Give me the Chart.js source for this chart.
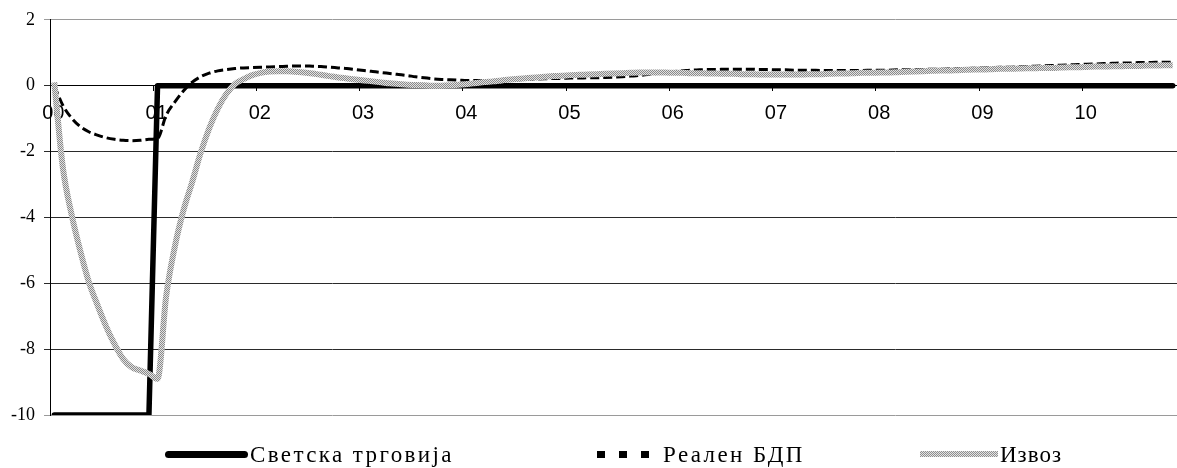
<!DOCTYPE html>
<html>
<head>
<meta charset="utf-8">
<script src="https://cdn.jsdelivr.net/npm/chart.js@4.4.1/dist/chart.umd.min.js"></script>
<style>
  html, body { margin: 0; padding: 0; background: #fff; }
  #wrap { position: relative; width: 1177px; height: 468px; overflow: hidden; }
  #chart { position: absolute; left: 0; top: 0; }
  .lg-text { position: absolute; font-family: 'Liberation Serif', 'Times New Roman', serif; font-size: 23px; line-height: 26px; letter-spacing: 2.4px; color: #000; white-space: nowrap; }
  .lg-solid { position: absolute; background: #000; border-radius: 4px; }
  .lg-dash { position: absolute; background: #000; }
  .lg-pat { position: absolute; background-image: repeating-conic-gradient(#8f8f8f 0% 25%, #e4e4e4 0% 50%); background-size: 2px 2px; }
</style>
</head>
<body>
<div id="wrap">
  <canvas id="chart" width="1177" height="468"></canvas>
</div>
<script>
// ---- data ----
const years = ['00','01','02','03','04','05','06','07','08','09','10'];
const seriesNames = ['Светска трговија', 'Реален БДП', 'Извоз'];
const yTicks = [2, 0, -2, -4, -6, -8, -10];

const worldTrade = [
  -10,-10,-10,-10,-10,-10,-10,-10,-10,-10,-10,-10,
  0,0,0,0,0,0,0,0,0,0,0,0,
  0,0,0,0,0,0,0,0,0,0,0,0,
  0,0,0,0,0,0,0,0,0,0,0,0,
  0,0,0,0,0,0,0,0,0,0,0,0,
  0,0,0,0,0,0,0,0,0,0,0,0,
  0,0,0,0,0,0,0,0,0,0,0,0,
  0,0,0,0,0,0,0,0,0,0,0,0,
  0,0,0,0,0,0,0,0,0,0,0,0,
  0,0,0,0,0,0,0,0,0,0,0,0,
  0,0,0,0,0,0,0,0,0,0,0
];

const realGDP = [
  0,-0.6,-0.98,-1.24,-1.4,-1.5,-1.58,-1.63,-1.66,-1.67,-1.66,-1.63,
  -1.6,-0.9,-0.5,-0.16,0.1,0.27,0.38,0.45,0.49,0.52,0.54,0.55,
  0.56,0.57,0.58,0.59,0.6,0.6,0.59,0.58,0.56,0.54,0.52,0.49,
  0.46,0.43,0.4,0.37,0.34,0.31,0.27,0.24,0.21,0.19,0.18,0.17,
  0.16,0.16,0.16,0.16,0.17,0.17,0.18,0.19,0.2,0.21,0.22,0.22,
  0.23,0.23,0.24,0.24,0.25,0.26,0.27,0.29,0.31,0.34,0.37,0.4,
  0.43,0.45,0.47,0.48,0.49,0.49,0.5,0.5,0.5,0.5,0.49,0.49,
  0.48,0.48,0.47,0.47,0.47,0.46,0.46,0.46,0.46,0.46,0.46,0.47,
  0.47,0.47,0.48,0.48,0.49,0.49,0.5,0.5,0.51,0.52,0.52,0.53,
  0.54,0.55,0.56,0.56,0.57,0.58,0.59,0.6,0.61,0.62,0.63,0.64,
  0.65,0.66,0.67,0.68,0.69,0.69,0.7,0.7,0.71,0.71,0.71
];

const exports_ = [
  0.1,-2.5,-3.9,-5.0,-5.95,-6.65,-7.3,-7.85,-8.3,-8.55,-8.65,-8.75,
  -8.9,-6.4,-4.9,-3.8,-2.95,-2.05,-1.3,-0.7,-0.25,0.05,0.2,0.32,
  0.39,0.43,0.44,0.44,0.42,0.4,0.37,0.33,0.29,0.25,0.22,0.19,
  0.16,0.13,0.1,0.07,0.05,0.03,0.02,0.01,0.0,0.0,0.01,0.03,
  0.05,0.08,0.11,0.13,0.16,0.19,0.21,0.23,0.25,0.27,0.29,0.3,
  0.32,0.33,0.34,0.35,0.36,0.37,0.38,0.39,0.4,0.4,0.4,0.4,
  0.39,0.39,0.38,0.38,0.37,0.37,0.36,0.36,0.35,0.35,0.34,0.34,
  0.34,0.34,0.34,0.34,0.35,0.35,0.36,0.37,0.37,0.38,0.39,0.39,
  0.4,0.4,0.41,0.42,0.43,0.44,0.45,0.46,0.46,0.47,0.48,0.49,
  0.49,0.5,0.51,0.51,0.52,0.53,0.53,0.54,0.54,0.55,0.56,0.56,
  0.57,0.58,0.58,0.59,0.59,0.6,0.6,0.61,0.61,0.62,0.62
];

// monthly category labels built from the year labels
const allMonths = [];
years.forEach(y => { for (let m = 0; m < 12; m++) allMonths.push(m === 0 ? y : ''); });
const labels = allMonths.slice(0, worldTrade.length);

// speckled gray pattern for the export line
const pc = document.createElement('canvas');
pc.width = 2; pc.height = 2;
const pctx = pc.getContext('2d');
pctx.fillStyle = '#e2e2e2'; pctx.fillRect(0, 0, 2, 2);
pctx.fillStyle = '#8a8a8a'; pctx.fillRect(0, 0, 1, 1); pctx.fillRect(1, 1, 1, 1);
const grayPattern = pctx.createPattern(pc, 'repeat');

const ctx = document.getElementById('chart').getContext('2d');
new Chart(ctx, {
  type: 'line',
  data: {
    labels: labels,
    datasets: [
      { label: seriesNames[0], data: worldTrade, borderColor: '#000', borderWidth: 5.5,
        tension: 0, pointRadius: 0, borderJoinStyle: 'round', borderCapStyle: 'round', order: 3 },
      { label: seriesNames[1], data: realGDP, borderColor: '#000', borderWidth: 3,
        borderDash: [9, 4], cubicInterpolationMode: 'monotone', pointRadius: 0, order: 2 },
      { label: seriesNames[2], data: exports_, borderColor: grayPattern, borderWidth: 6,
        cubicInterpolationMode: 'monotone', pointRadius: 0, borderJoinStyle: 'round', order: 1 }
    ]
  },
  options: {
    responsive: false,
    animation: false,
    events: [],
    layout: { padding: { top: 17, bottom: 53, left: 0, right: 0 } },
    plugins: { legend: { display: false }, tooltip: { enabled: false } },
    scales: {
      x: {
        type: 'category',
        position: { y: 0 },
        offset: true,
        afterFit: (s) => { s.paddingLeft = 0; s.paddingRight = 0; },
        border: { display: true, color: '#000', width: 1 },
        grid: {
          offset: true,
          drawOnChartArea: false, drawTicks: true, tickLength: 5,
          color: (c) => (c.tick && c.tick.label !== '') ? '#000' : 'rgba(0,0,0,0)'
        },
        ticks: {
          autoSkip: false, maxRotation: 0, minRotation: 0, padding: 11, labelOffset: -1,
          color: '#000', font: { family: "'Liberation Sans', Arial, sans-serif", size: 20 },
          callback: function(v, i) { return labels[i]; }
        }
      },
      y: {
        min: -10, max: 2,
        afterFit: (s) => { s.width = 50; },
        border: { display: true, color: '#000', width: 1 },
        grid: {
          drawTicks: true, tickLength: 6, lineWidth: 1,
          color: (c) => (c.tick && (c.tick.value === 2 || c.tick.value === -10)) ? '#9a9a9a' : '#2a2a2a'
        },
        afterBuildTicks: (s) => { s.ticks = yTicks.map(v => ({ value: v })); },
        ticks: {
          padding: 9, color: '#000',
          font: { family: "'Liberation Serif', 'Times New Roman', serif", size: 18 }
        }
      }
    }
  }
});
</script>
<div style="position:absolute;left:0;top:0;width:1177px;height:468px;pointer-events:none;">
  <div class="lg-solid" style="left:165px;top:451px;width:83px;height:7px;"></div>
  <div class="lg-text" style="left:250px;top:442px;">Светска трговија</div>
  <div class="lg-dash" style="left:597px;top:451px;width:8px;height:7px;"></div>
  <div class="lg-dash" style="left:619px;top:451px;width:8px;height:7px;"></div>
  <div class="lg-dash" style="left:641px;top:451px;width:8px;height:7px;"></div>
  <div class="lg-text" style="left:663px;top:442px;">Реален БДП</div>
  <div class="lg-pat" style="left:920px;top:451px;width:78px;height:6px;"></div>
  <div class="lg-text" style="left:1000px;top:442px;letter-spacing:1px;">Извоз</div>
</div>
</body>
</html>
